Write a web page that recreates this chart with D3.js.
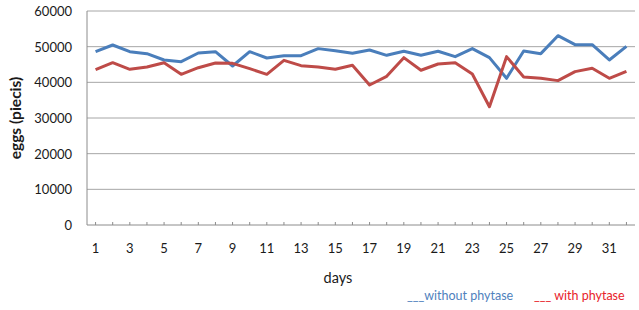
<!DOCTYPE html>
<html>
<head>
<meta charset="utf-8">
<script src="https://d3js.org/d3.v7.min.js"></script>
<style>
  body { margin: 0; background: #fff; }
  svg text { font-family: Lato, "Open Sans", sans-serif; }
</style>
</head>
<body>
<div id="vis"></div>
<script>
// data
var days = d3.range(1, 33);
var withoutPhytase = [48600, 50470, 48600, 48040, 46270, 45800, 48230, 48600, 44580, 48600,
  46830, 47480, 47480, 49450, 48880, 48130, 49070, 47570, 48700, 47570,
  48700, 47200, 49450, 46920, 41130, 48790, 48040, 53080, 50560, 50560,
  46270, 50100];
var withPhytase = [43550, 45500, 43650, 44300, 45500, 42250, 44100, 45420, 45330, 43830,
  42250, 46170, 44670, 44300, 43650, 44770, 39260, 41690, 46920, 43380,
  45140, 45500, 42340, 33170, 47200, 41500, 41130, 40480, 43000, 43930,
  41130, 43090];
var yTicks = [0, 10000, 20000, 30000, 40000, 50000, 60000];

var width = 639, height = 310;
var plotL = 87, plotR = 635, plotT = 11, plotB = 225;

var svg = d3.select("#vis").append("svg")
  .attr("width", width)
  .attr("height", height);

var x = d3.scaleBand().domain(days).range([plotL, plotR]);
var y = d3.scaleLinear().domain([0, 60000]).range([plotB, plotT]);

// gridlines
svg.append("g").selectAll("line")
  .data(yTicks.slice(1))
  .enter().append("line")
  .attr("x1", plotL).attr("x2", plotR)
  .attr("y1", d => y(d)).attr("y2", d => y(d))
  .attr("stroke", "#a6a6a6").attr("stroke-width", 1);

// y labels
svg.append("g").selectAll("text")
  .data(yTicks)
  .enter().append("text")
  .attr("x", 72)
  .attr("y", d => y(d) + 5)
  .attr("text-anchor", "end")
  .attr("font-size", 13)
  .attr("fill", "#1a1a1a")
  .text(d => d);

// axes lines
svg.append("line").attr("x1", plotL).attr("x2", plotL).attr("y1", plotT).attr("y2", plotB)
  .attr("stroke", "#8c8c8c");
svg.append("line").attr("x1", plotL).attr("x2", plotR).attr("y1", plotB).attr("y2", plotB)
  .attr("stroke", "#8c8c8c");

// small ticks on x axis
svg.append("g").selectAll("line")
  .data(days)
  .enter().append("line")
  .attr("x1", d => x(d) + x.bandwidth() / 2)
  .attr("x2", d => x(d) + x.bandwidth() / 2)
  .attr("y1", plotB).attr("y2", plotB - 3)
  .attr("stroke", "#8c8c8c");

// x labels, every other day
svg.append("g").selectAll("text")
  .data(days.filter(d => d % 2 == 1))
  .enter().append("text")
  .attr("x", d => x(d) + x.bandwidth() / 2)
  .attr("y", 253)
  .attr("text-anchor", "middle")
  .attr("font-size", 13)
  .attr("fill", "#1a1a1a")
  .text(d => d);

// lines
var line = d3.line()
  .x((d, i) => x(days[i]) + x.bandwidth() / 2)
  .y(d => y(d));

svg.append("path").datum(withoutPhytase)
  .attr("d", line)
  .attr("fill", "none")
  .attr("stroke", "#4a7ebb")
  .attr("stroke-width", 3)
  .attr("stroke-linejoin", "round");

svg.append("path").datum(withPhytase)
  .attr("d", line)
  .attr("fill", "none")
  .attr("stroke", "#be4b48")
  .attr("stroke-width", 3)
  .attr("stroke-linejoin", "round");

// axis titles
svg.append("text")
  .attr("transform", "translate(21,118) rotate(-90)")
  .attr("text-anchor", "middle")
  .attr("font-size", 15.5)
  .attr("font-weight", "bold")
  .attr("fill", "#1a1a1a")
  .text("eggs (piecis)");

svg.append("text")
  .attr("x", 338).attr("y", 283)
  .attr("text-anchor", "middle")
  .attr("font-size", 14.5)
  .attr("fill", "#1a1a1a")
  .text("days");

// legend
svg.append("text")
  .attr("x", 407).attr("y", 300)
  .attr("font-size", 12.5)
  .attr("fill", "#4f81bd")
  .text("___without phytase");

svg.append("text")
  .attr("x", 534).attr("y", 300)
  .attr("font-size", 12.5)
  .attr("fill", "#e8222a")
  .text("___ with phytase");
</script>
</body>
</html>
